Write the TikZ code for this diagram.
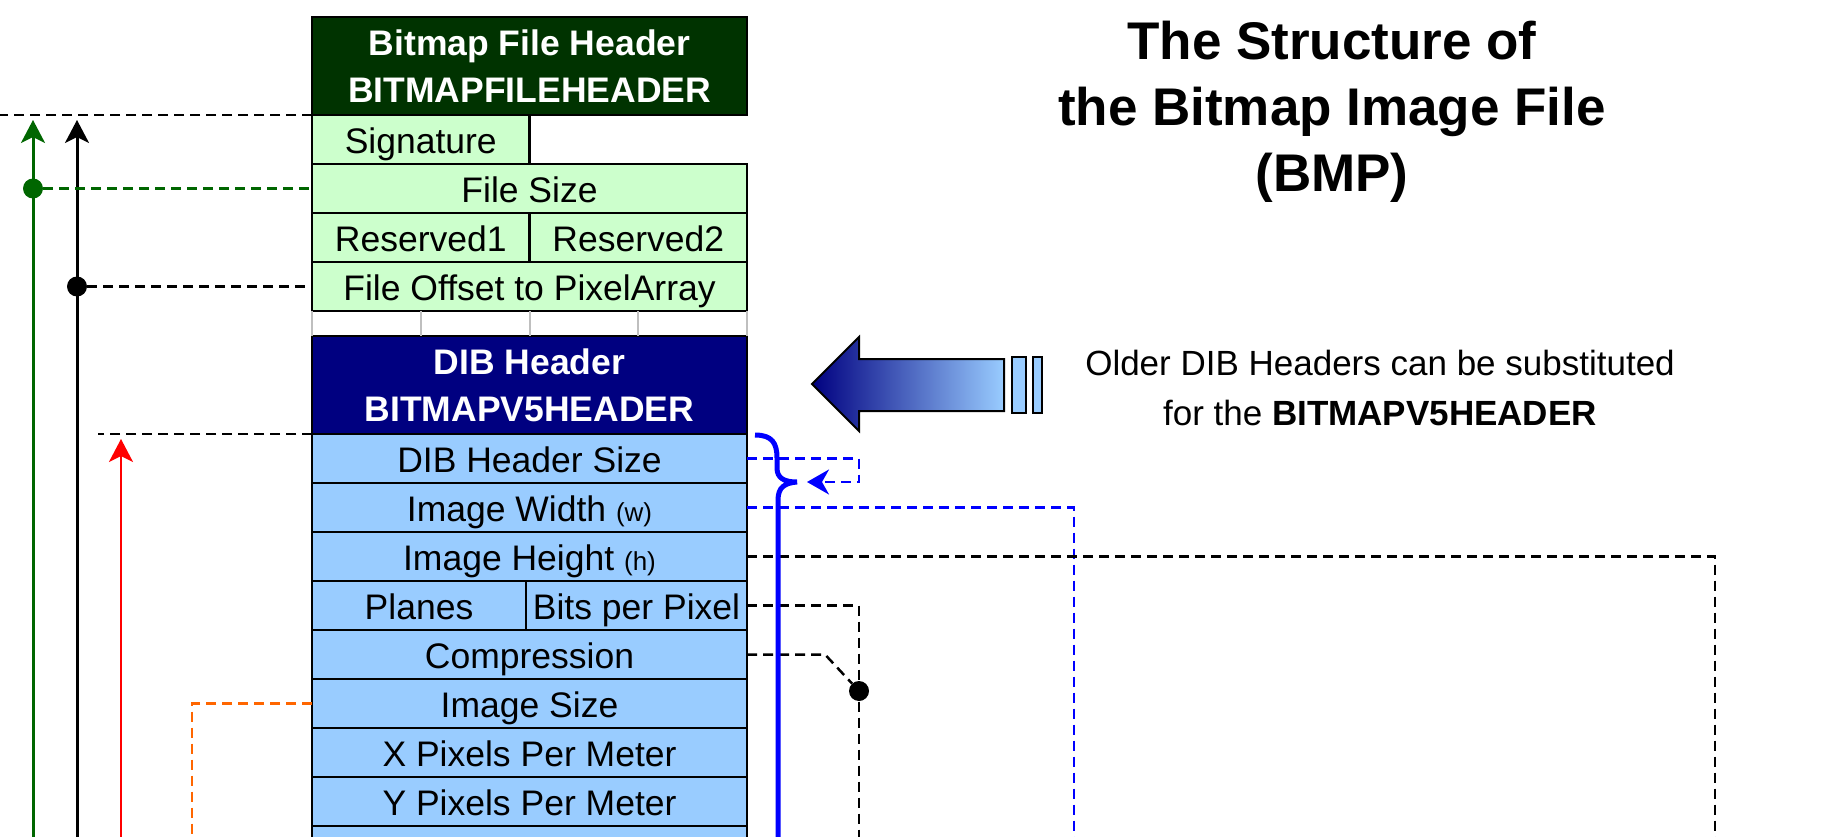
\documentclass[tikz,border=0pt]{standalone}
\usepackage{fontspec}
\setmainfont{Liberation Sans}
\usetikzlibrary{arrows.meta, positioning, calc}

\definecolor{hdrgreen}{HTML}{003300}
\definecolor{fldgreen}{HTML}{CCFFCC}
\definecolor{hdrnavy}{HTML}{000080}
\definecolor{fldblue}{HTML}{99CCFF}
\definecolor{lnkgreen}{HTML}{006600}
\definecolor{lnkorange}{HTML}{FF6600}

\begin{document}
\begin{tikzpicture}[
        x=1pt, y=-1pt,
        cell/.style={rectangle, draw, line width=2.5pt, minimum width=435pt, inner sep=0pt, outer sep=0pt, align=center},
        ffld/.style={cell, fill=fldgreen, minimum height=49pt, font=\fontsize{35.5}{40}\selectfont, text height=30pt, text depth=2pt},
        dfld/.style={ffld, fill=fldblue},
        half/.style={minimum width=217.5pt},
        fhead/.style={cell, fill=hdrgreen, minimum height=98pt, text=white, font=\bfseries\fontsize{35.5}{47}\selectfont},
        dhead/.style={fhead, fill=hdrnavy},
        dashes/.style={line width=2.5pt, dash pattern=on 10pt off 6pt},
        kdash/.style={dashes, black},
        gdash/.style={dashes, lnkgreen},
        bdash/.style={dashes, blue},
        odash/.style={dashes, lnkorange},
        up/.style={-{Stealth[length=23pt, width=24pt, inset=6pt]}},
        dot/.style={circle, fill, inner sep=0pt, minimum size=20pt},
    ]
    \useasboundingbox (0,0) rectangle (1825,837);
    \clip (0,0) rectangle (1825,837);

    % file header
    \node[fhead] (fhdr) at (529.5,66) {Bitmap File Header\\BITMAPFILEHEADER};
    \node[ffld, half, anchor=north west] (sig) at (fhdr.south west) {Signature};
    \node[ffld, anchor=north west] (fsize) at (sig.south west) {File Size};
    \node[ffld, half, anchor=north west] (res1) at (fsize.south west) {Reserved1};
    \node[ffld, half, anchor=north west] (res2) at (res1.north east) {Reserved2};
    \node[ffld, anchor=north west] (offset) at (res1.south west) {File Offset to PixelArray};

    % dib header
    \node[dhead, below=25pt of offset] (dhdr) {DIB Header\\BITMAPV5HEADER};
    \node[dfld, below=0pt of dhdr] (hsize) {DIB Header Size};
    \node[dfld, below=0pt of hsize] (iwidth) {Image Width {\fontsize{26}{30}\selectfont(w)}};
    \node[dfld, below=0pt of iwidth] (iheight) {Image Height {\fontsize{26}{30}\selectfont(h)}};
    \node[dfld, minimum width=214pt, anchor=north west] (planes) at (iheight.south west) {Planes};
    \node[dfld, minimum width=221pt, anchor=north west] (bits) at (planes.north east) {Bits per Pixel};
    \node[dfld, anchor=north west] (compr) at (planes.south west) {Compression};
    \node[dfld, below=0pt of compr] (isize) {Image Size};
    \node[dfld, below=0pt of isize] (xppm) {X Pixels Per Meter};
    \node[dfld, below=0pt of xppm] (yppm) {Y Pixels Per Meter};
    \node[dfld, below=0pt of yppm] (more) {};

    \foreach \f in {0,0.25,...,1}
        \draw[gray!50, line width=2pt] ($(offset.south west)!\f!(offset.south east)$) -- ($(dhdr.north west)!\f!(dhdr.north east)$);

    % title and note
    \node[font=\bfseries\fontsize{53}{66}\selectfont, align=center] (title) at (1332,112) {The Structure of\\the Bitmap Image File\\(BMP)};
    \node[font=\fontsize{35}{50}\selectfont, align=center] (note) at (1380,388) {Older DIB Headers can be substituted\\for the \textbf{BITMAPV5HEADER}};

    \shade[left color=hdrnavy, right color=fldblue, draw=black, line width=2pt]
        (812,384) -- (859,337) -- (859,359) -- (1004,359) -- (1004,411) -- (859,411) -- (859,431) -- cycle;
    \draw[fill=fldblue, line width=2pt] (1012,357) rectangle (1026,413);
    \draw[fill=fldblue, line width=2pt] (1033,357) rectangle (1042,413);

    \coordinate (lft) at (0,0);
    \coordinate (bot) at (0,860);
    \coordinate (gx) at (33,0);
    \coordinate (kx) at (77,0);
    \coordinate (rx) at (121,0);
    \coordinate (ox) at (192,0);
    \coordinate (cx) at (825,0);
    \coordinate (sx) at (859,0);
    \coordinate (wx) at (1074,0);
    \coordinate (hx) at (1715,0);
    \coordinate (btip) at (797,482);

    % left side
    \draw[kdash] (fhdr.south west) -- (lft |- fhdr.south west);
    \draw[lnkgreen, line width=3pt, up] (gx |- bot) -- ($(gx |- fhdr.south)+(0,5)$);
    \draw[black, line width=3pt, up] (kx |- bot) -- ($(kx |- fhdr.south)+(0,5)$);
    \node[dot, lnkgreen] (gd) at (gx |- fsize.west) {};
    \node[dot] (kd) at (kx |- offset.west) {};
    \draw[gdash] (gd) -- (fsize.west);
    \draw[kdash] (kd) -- (offset.west);
    \draw[kdash] (hsize.north west) -- ($(rx |- hsize.north west)+(-23,0)$);
    \draw[red, line width=2.5pt, up] (rx |- bot) -- ($(rx |- hsize.north)+(0,5)$);
    \draw[odash] (isize.west) -| (ox |- bot);

    % right side
    \draw[bdash] (iwidth.east) -| (wx |- bot);
    \draw[kdash] (iheight.east) -| (hx |- bot);
    \node[dot] (sel) at (859,691) {};
    \draw[kdash] (bits.east) -| (sx |- bot);
    \draw[kdash] (compr.east) -- (cx |- compr.east) -- (sel);
    \draw[bdash, -{Stealth[length=22pt, width=25pt, inset=7pt]}] (hsize.east) -- (sx |- hsize.east) -- (sx |- btip) -- ($(btip)+(10,0)$);
    \draw[blue, line width=5pt] (755,435) .. controls (772,435) and (777,443) .. (777,458) -- (777,468)
        .. controls (777,478) and (784,482) .. (btip) .. controls (785,483) and (778,487) .. (778,500) -- (778,860);
\end{tikzpicture}
\end{document}
